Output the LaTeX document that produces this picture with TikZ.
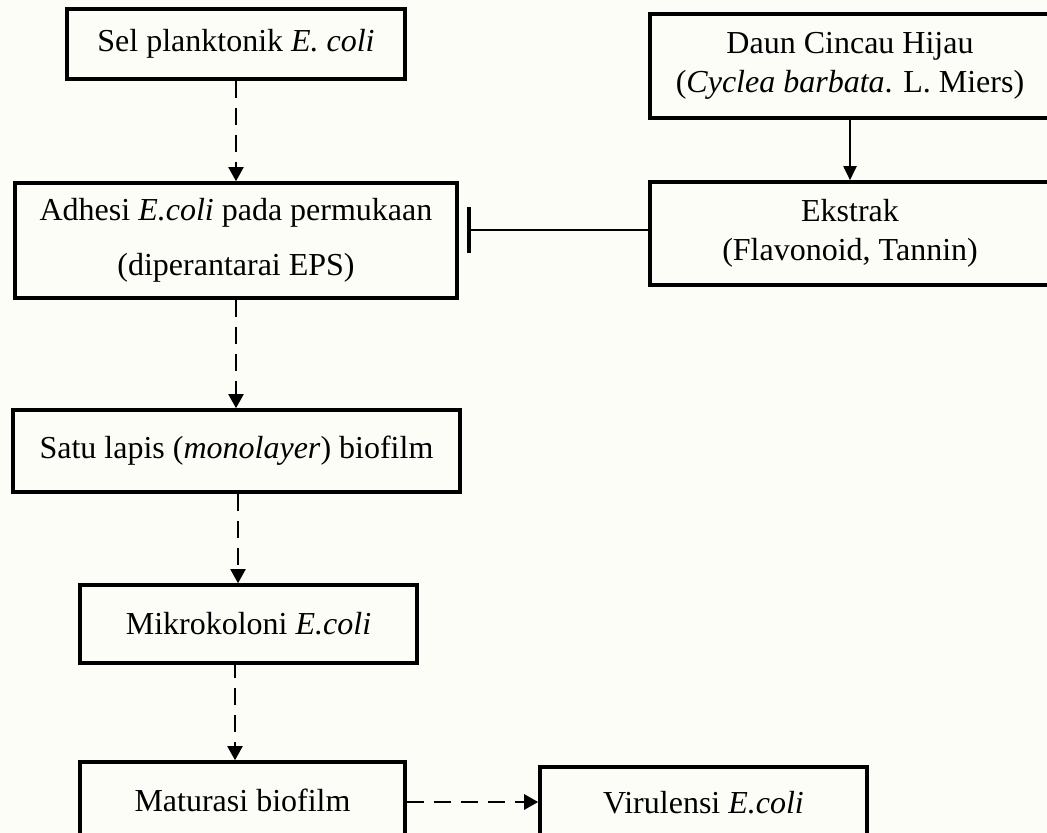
\documentclass[tikz,border=0pt]{standalone}
\usepackage{fontspec}
\setmainfont{Liberation Serif}
\usetikzlibrary{arrows.meta}
\definecolor{paper}{RGB}{253,253,248}

\begin{document}
\begin{tikzpicture}[x = 0.5pt, y = -0.5pt, font = \fontsize{16}{19.5}\selectfont]
\tikzstyle{BoxStyle} = [shape = rectangle, draw, line width = 1.8pt, align = center, inner sep = 0pt]
\tikzstyle{DashStyle} = [dash pattern = on 8.5pt off 5pt, line width = 1pt, -{Triangle[length = 7pt, width = 7.5pt]}]
\tikzstyle{ArrowStyle} = [line width = 1pt, -{Triangle[length = 7pt, width = 6.5pt]}]
\tikzstyle{InhibitStyle} = [line width = 0.9pt, -{Bar[width = 23pt, line width = 2pt]}]
\useasboundingbox (0,0) rectangle (1047,833);
\fill[paper] (0,0) rectangle (1047,833);
\clip (0,0) rectangle (1047,833);
\node[BoxStyle, minimum width = 169pt, minimum height = 35pt] (b0) at (236,44) {Sel planktonik \textit{E. coli}};
\node[BoxStyle, minimum width = 200pt, minimum height = 52pt] (b1) at (850,66) {Daun Cincau Hijau\\(\textit{Cyclea barbata}. L. Miers)};
\node[BoxStyle, minimum width = 221pt, minimum height = 57.5pt] (b2) at (236,240.5) {Adhesi \textit{E.coli} pada permukaan\\[8pt](diperantarai EPS)};
\node[BoxStyle, minimum width = 200pt, minimum height = 51.5pt] (b3) at (850,233.5) {Ekstrak\\(Flavonoid, Tannin)};
\node[BoxStyle, minimum width = 223.5pt, minimum height = 41pt] (b4) at (236.5,451) {Satu lapis (\textit{monolayer}) biofilm};
\node[BoxStyle, minimum width = 168.5pt, minimum height = 39pt] (b5) at (248.5,624) {Mikrokoloni \textit{E.coli}};
\node[BoxStyle, minimum width = 162.5pt, minimum height = 38pt] (b6) at (242.5,800) {Maturasi biofilm};
\node[BoxStyle, minimum width = 163.5pt, minimum height = 35.5pt] (b7) at (703.5,802.5) {Virulensi \textit{E.coli}};
\draw[DashStyle] (b0.south) -- (b0.south |- b2.north);
\draw[ArrowStyle] (b1.south) -- (b3.north);
\draw[InhibitStyle, shorten > = 4pt] (b3.west |- 0,230) -- (b2.east |- 0,230);
\draw[DashStyle] (b2.south) -- (b2.south |- b4.north);
\draw[DashStyle] (b4.south -| 238,0) -- (b5.north -| 238,0);
\draw[DashStyle] (b6.north -| 235,0) ++(0,-99) -- (b6.north -| 235,0);
\draw[DashStyle, line width = 1.3pt] (b6.east |- 0,802) -- (b7.west |- 0,802);
\end{tikzpicture}
\end{document}
